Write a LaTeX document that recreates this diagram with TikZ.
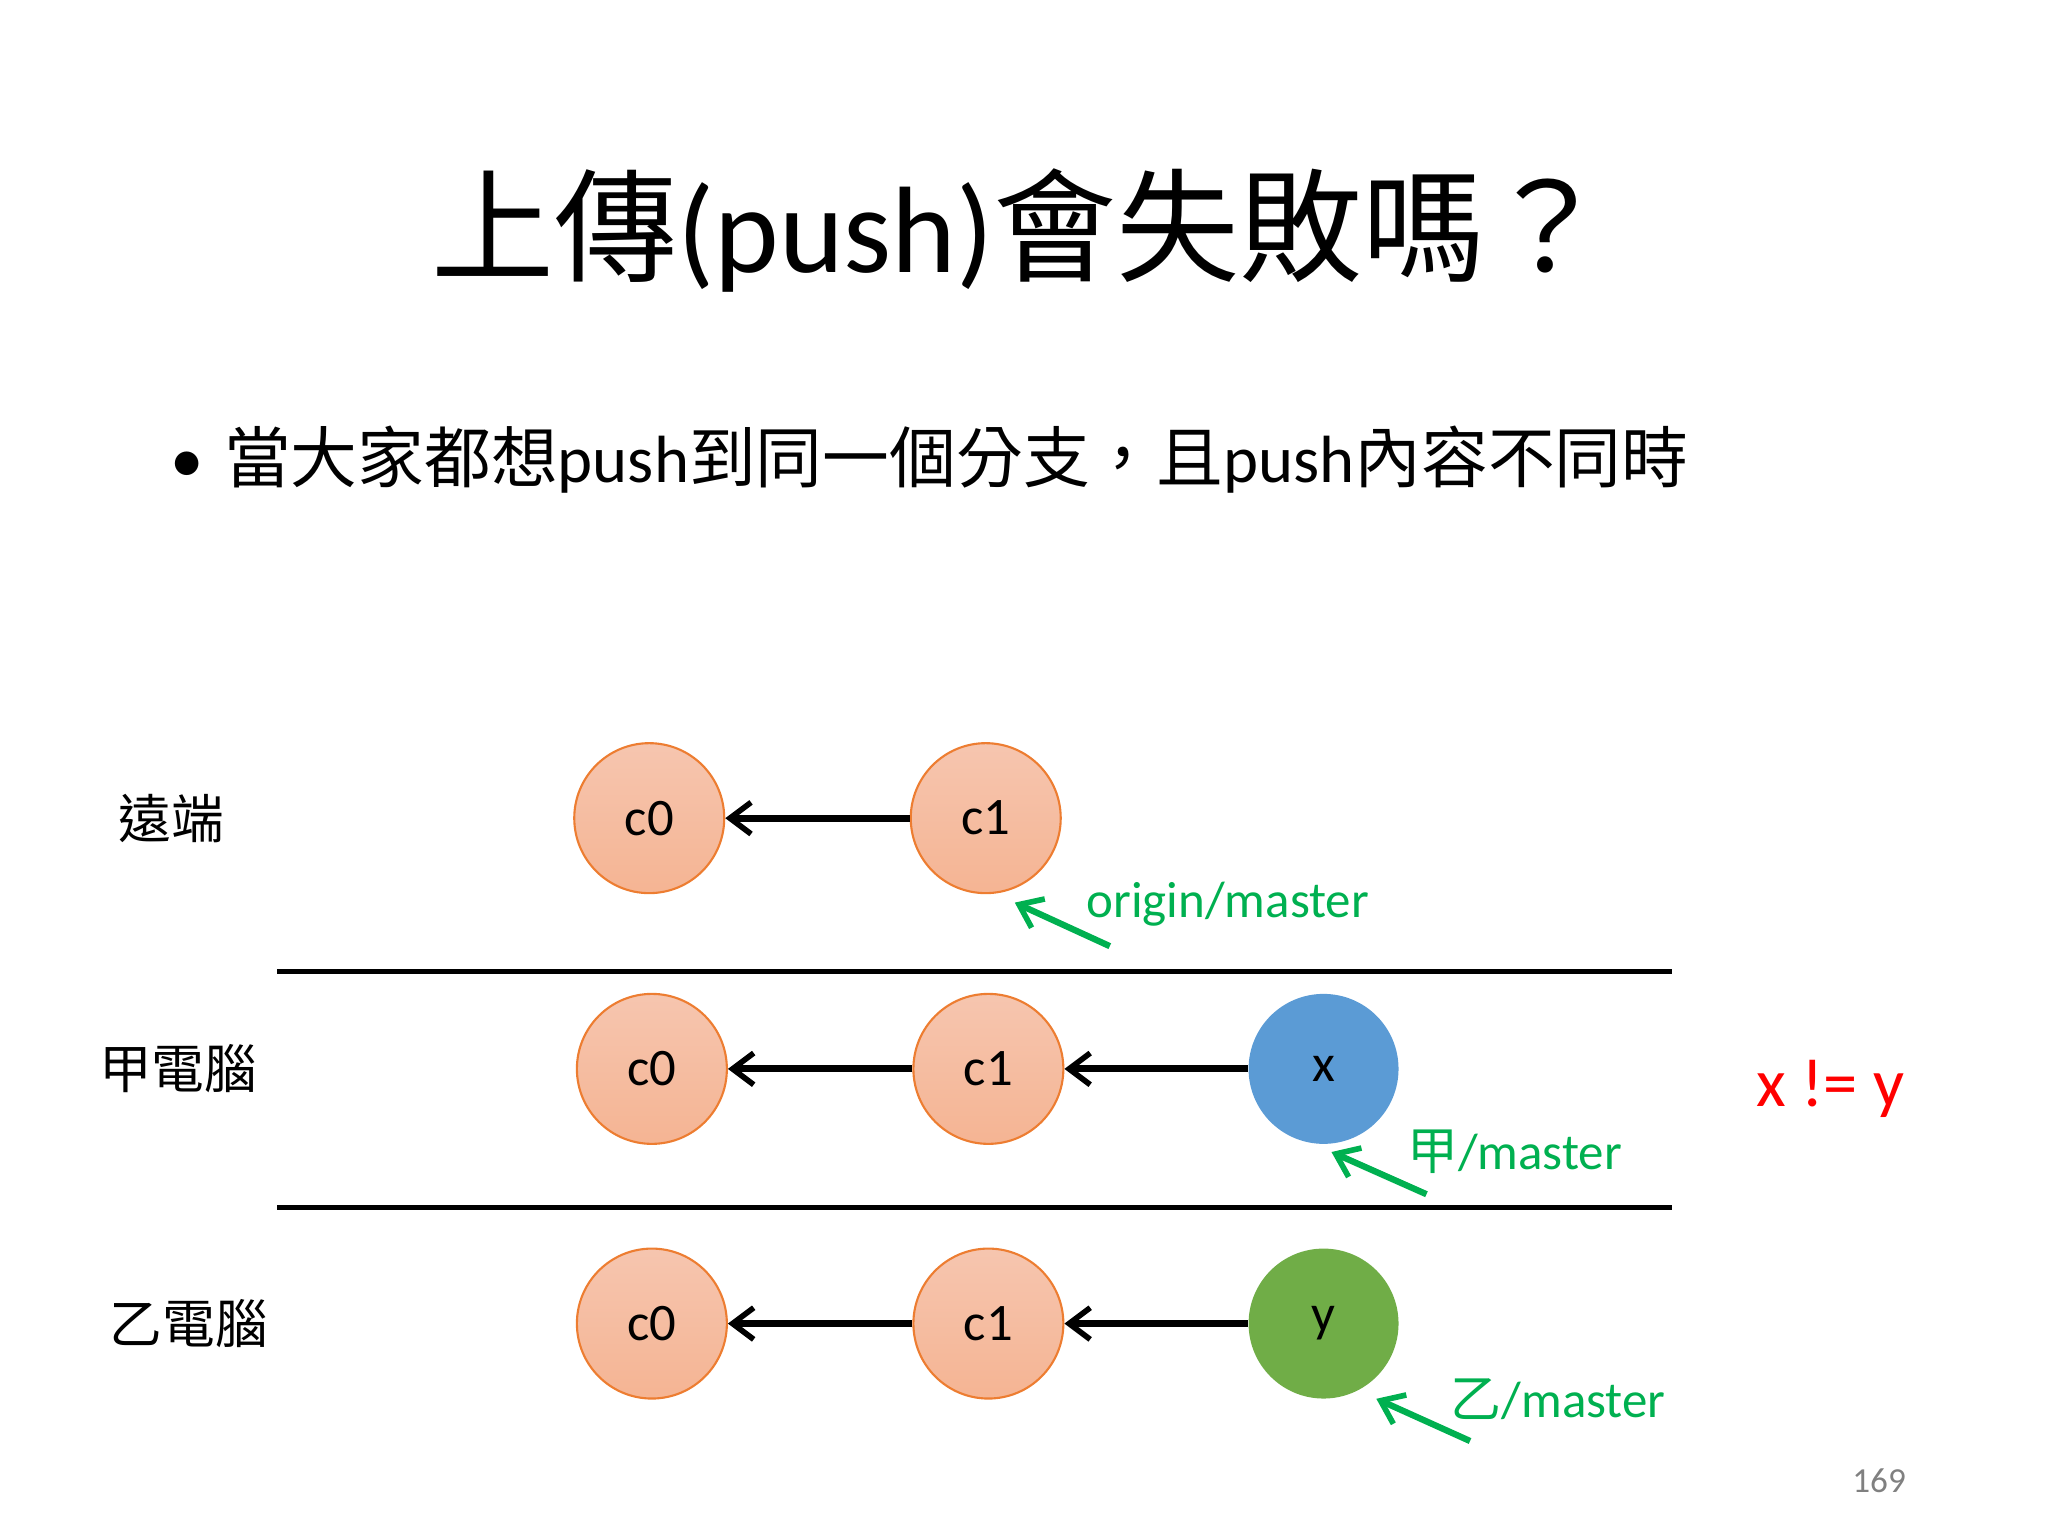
\documentclass[tikz,border=0pt]{standalone}
\usepackage{fontspec}
\setmainfont{Carlito}
\newfontfamily\cjk{Noto Sans CJK TC}
\usetikzlibrary{arrows.meta}
\definecolor{cfill}{HTML}{F4B79B}
\definecolor{cedge}{HTML}{ED7D31}
\definecolor{xblue}{HTML}{5B9BD5}
\definecolor{ygreen}{HTML}{70AD47}
\definecolor{lgreen}{HTML}{00B050}
\begin{document}
\begin{tikzpicture}[x=0.0132cm,y=-0.0132cm,
  commit/.style={circle,minimum size=1.5cm,inner sep=0pt,font=\fontsize{15}{15}\selectfont},
  cnode/.style={commit,draw=cedge,line width=0.6pt,top color=cfill!80,bottom color=cfill!95!orange},
  arr/.style={-{Straight Barb[length=6pt,width=9pt,line width=1.6pt]},line width=2pt},
  garr/.style={-{Straight Barb[length=6pt,width=9pt,line width=1.6pt]},line width=1.8pt,draw=lgreen},
  glab/.style={text=lgreen,font=\fontsize{14.5}{14.5}\selectfont,anchor=west},
  rowlab/.style={font=\cjk\fontsize{15}{15}\selectfont}]
\useasboundingbox (0,0) rectangle (1552,1164);
\node (title) at (773,175) {\fontsize{35}{35}\selectfont{\cjk 上傳}(push){\cjk 會失敗嗎？}};
\node[anchor=west] (bul) at (120,348) {\fontsize{19}{19}\selectfont •\hspace{0.3em}{\cjk 當大家都想}push{\cjk 到同一個分支，且}push{\cjk 內容不同時}};
% row labels
\node[rowlab] (r0) at (130,620) {遠端};
\node[rowlab] (r1) at (135,810) {甲電腦};
\node[rowlab] (r2) at (143,1003) {乙電腦};
% separators
\coordinate (l1a) at (210,736); \coordinate (l1b) at (1267,736);
\coordinate (l2a) at (210,915); \coordinate (l2b) at (1267,915);
\draw[line width=1.3pt] (l1a) -- (l1b);
\draw[line width=1.3pt] (l2a) -- (l2b);
% row 1
\node[cnode] (a0) at (492,620) {c0};
\node[cnode] (a1) at (747,620) {c1};
\draw[arr] (a1) -- (a0);
% row 2
\node[cnode] (b0) at (494,810) {c0};
\node[cnode] (b1) at (749,810) {c1};
\node[commit,fill=xblue] (bx) at (1003,810) {x};
\draw[arr] (b1) -- (b0);
\draw[arr] (bx) -- (b1);
% row 3
\node[cnode] (d0) at (494,1003) {c0};
\node[cnode] (d1) at (749,1003) {c1};
\node[commit,fill=ygreen] (dy) at (1003,1003) {y};
\draw[arr] (d1) -- (d0);
\draw[arr] (dy) -- (d1);
% branch labels
\node[glab] (om) at (814,685) {origin/master};
\coordinate (omS) at (841,717); \coordinate (omE) at (769,684);
\draw[garr] (omS) -- (omE);
\node[glab] (jm) at (1057,873) {{\cjk 甲}/master};
\coordinate (jmS) at (1081,905); \coordinate (jmE) at (1009,873);
\draw[garr] (jmS) -- (jmE);
\node[glab] (ym) at (1090,1060) {{\cjk 乙}/master};
\coordinate (ymS) at (1114,1092); \coordinate (ymE) at (1043,1060);
\draw[garr] (ymS) -- (ymE);
\node[text=red,font=\fontsize{19.5}{19.5}\selectfont] (neq) at (1387,825) {x != y};
\node[text=gray,font=\fontsize{10}{10}\selectfont] (pg) at (1424,1122) {169};
\end{tikzpicture}
\end{document}
